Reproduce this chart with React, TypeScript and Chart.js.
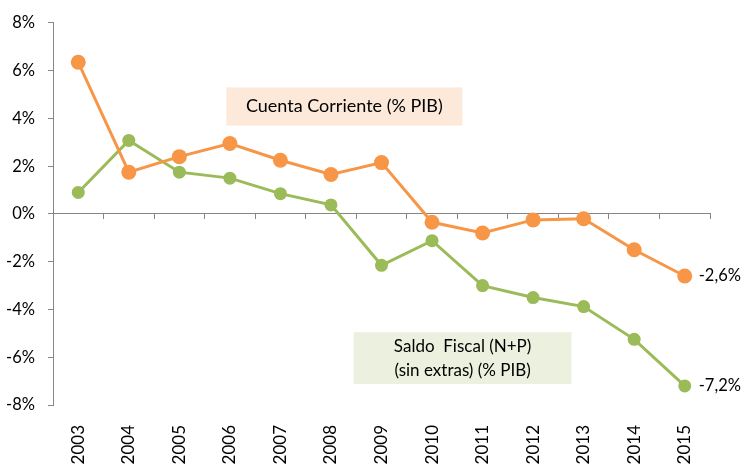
import React, { useEffect, useRef } from "react";
import { Chart, registerables } from "chart.js";

Chart.register(...registerables);

const years = ["2003","2004","2005","2006","2007","2008","2009","2010","2011","2012","2013","2014","2015"];
const cuentaCorriente = [6.35, 1.75, 2.4, 2.95, 2.25, 1.65, 2.15, -0.35, -0.8, -0.25, -0.2, -1.5, -2.6];
const saldoFiscal = [0.9, 3.08, 1.75, 1.5, 0.85, 0.38, -2.15, -1.12, -3.0, -3.5, -3.88, -5.25, -7.2];
const lastLabels = ["-2,6%", "-7,2%"];
const yTicks = [-8, -6, -4, -2, 0, 2, 4, 6, 8];

const FONT = "Lato, 'Open Sans', sans-serif";
const ORANGE = "#F79646";
const GREEN = "#9BBB59";
const AXIS = "#868686";

const annotations = {
  id: "annotations",
  afterDatasetsDraw(chart: any) {
    const ctx = chart.ctx;
    const x = chart.scales.x;
    const y = chart.scales.y;
    ctx.save();
    ctx.fillStyle = "#000";
    ctx.textBaseline = "middle";
    // Cuenta Corriente box
    const b1l = x.getPixelForValue(2.93), b1r = x.getPixelForValue(7.6);
    const b1t = y.getPixelForValue(5.3), b1b = y.getPixelForValue(3.7);
    ctx.fillStyle = "#FDE9D9";
    ctx.fillRect(b1l, b1t, b1r - b1l, b1b - b1t);
    ctx.fillStyle = "#000";
    ctx.textAlign = "center";
    ctx.font = `18px ${FONT}`;
    ctx.fillText("Cuenta Corriente (% PIB)", (b1l + b1r) / 2, (b1t + b1b) / 2);
    // Saldo Fiscal box
    const b2l = x.getPixelForValue(5.45), b2r = x.getPixelForValue(9.76);
    const b2t = y.getPixelForValue(-4.95), b2b = y.getPixelForValue(-7.12);
    ctx.fillStyle = "#EBF1DE";
    ctx.fillRect(b2l, b2t, b2r - b2l, b2b - b2t);
    ctx.fillStyle = "#000";
    ctx.font = `17px ${FONT}`;
    const cx = (b2l + b2r) / 2, cy = (b2t + b2b) / 2;
    ctx.fillText("Saldo  Fiscal (N+P)", cx, cy - 12);
    ctx.fillText("(sin extras) (% PIB)", cx, cy + 12);
    // end labels
    ctx.textAlign = "left";
    ctx.font = `16.5px ${FONT}`;
    const last = years.length - 1;
    const px = x.getPixelForValue(last) + 14;
    ctx.fillText(lastLabels[0], px, y.getPixelForValue(cuentaCorriente[last]));
    ctx.fillText(lastLabels[1], px, y.getPixelForValue(saldoFiscal[last]));
    ctx.restore();
  },
};

export default function App() {
  const ref = useRef<HTMLCanvasElement>(null);
  useEffect(() => {
    document.body.style.margin = "0";
    const chart = new Chart(ref.current!, {
      type: "line",
      data: {
        labels: years,
        datasets: [
          {
            label: "Cuenta Corriente (% PIB)",
            data: cuentaCorriente,
            borderColor: ORANGE,
            backgroundColor: ORANGE,
            borderWidth: 3,
            pointRadius: 7.5,
            pointHoverRadius: 7.5,
            pointBorderWidth: 0,
            tension: 0,
          },
          {
            label: "Saldo Fiscal (N+P) (sin extras) (% PIB)",
            data: saldoFiscal,
            borderColor: GREEN,
            backgroundColor: GREEN,
            borderWidth: 3,
            pointRadius: 6.5,
            pointHoverRadius: 6.5,
            pointBorderWidth: 0,
            tension: 0,
          },
        ],
      },
      options: {
        animation: false,
        responsive: false,
        layout: { padding: { top: 21, right: 33, left: 0, bottom: 0 } },
        plugins: { legend: { display: false }, tooltip: { enabled: false } },
        scales: {
          x: {
            type: "category",
            offset: true,
            grid: { display: false },
            border: { display: false },
            ticks: {
              minRotation: 90,
              maxRotation: 90,
              padding: 12,
              color: "#000",
              font: { family: FONT, size: 17 },
            },
            afterFit: (s: any) => { s.height = 60; },
          },
          x2: {
            type: "category",
            labels: years,
            position: { y: 0 },
            offset: true,
            ticks: { display: false },
            grid: {
              drawOnChartArea: false,
              drawTicks: true,
              tickLength: 5,
              color: AXIS,
              offset: true,
            },
            border: { display: true, color: AXIS, width: 1 },
          },
          y: {
            min: -8,
            max: 8,
            afterBuildTicks: (s: any) => { s.ticks = yTicks.map((v) => ({ value: v })); },
            ticks: {
              callback: (v: any) => `${v}%`,
              padding: 13,
              color: "#000",
              font: { family: FONT, size: 16.5 },
            },
            grid: {
              drawOnChartArea: false,
              drawTicks: true,
              tickLength: 5,
              color: AXIS,
            },
            border: { display: true, color: AXIS, width: 1 },
            afterFit: (s: any) => { s.width = 53; },
          },
        },
      },
      plugins: [annotations],
    });
    return () => chart.destroy();
  }, []);
  return <canvas ref={ref} width={743} height={465} style={{ display: "block" }} />;
}
